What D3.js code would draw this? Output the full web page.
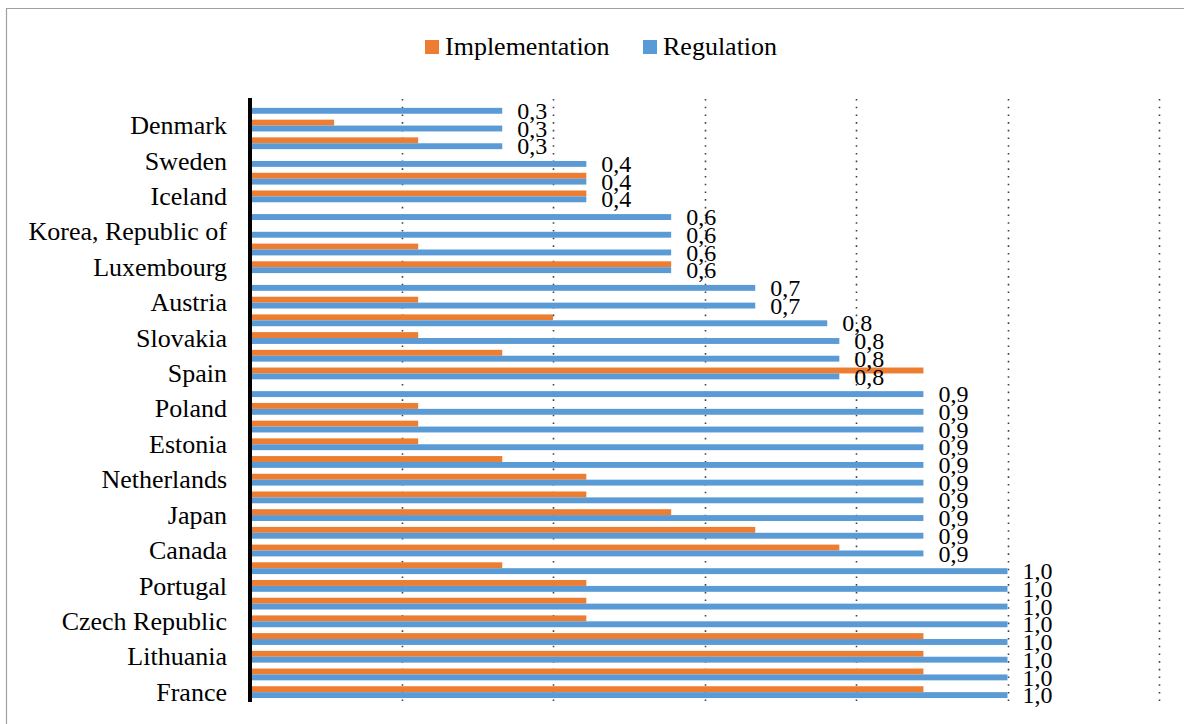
<!DOCTYPE html>
<html>
<head>
<meta charset="utf-8">
<script src="https://cdn.jsdelivr.net/npm/d3@7"></script>
<style>
  html, body { margin: 0; padding: 0; background: #fff; }
  svg { display: block; }
  text { font-family: "Liberation Serif", "Times New Roman", serif; fill: #000; }
</style>
</head>
<body>
<svg id="chart" width="1184" height="724"></svg>
<script>
// Country rows, top to bottom; only every second row carries a visible name
const categories = [
  "", "Denmark", "", "Sweden", "", "Iceland", "", "Korea, Republic of", "", "Luxembourg",
  "", "Austria", "", "Slovakia", "", "Spain", "", "Poland", "", "Estonia",
  "", "Netherlands", "", "Japan", "", "Canada", "", "Portugal", "", "Czech Republic",
  "", "Lithuania", "", "France"
];

// Implementation scores per row
const implementation = [
  0, 0.111, 0.222, 0, 0.444, 0.444, 0, 0, 0.222, 0.556,
  0, 0.222, 0.4, 0.222, 0.333, 0.889, 0, 0.222, 0.222, 0.222,
  0.333, 0.444, 0.444, 0.556, 0.667, 0.778, 0.333, 0.444, 0.444, 0.444,
  0.889, 0.889, 0.889, 0.889
];

// Regulation scores per row
const regulation = [
  0.333, 0.333, 0.333, 0.444, 0.444, 0.444, 0.556, 0.556, 0.556, 0.556,
  0.667, 0.667, 0.762, 0.778, 0.778, 0.778, 0.889, 0.889, 0.889, 0.889,
  0.889, 0.889, 0.889, 0.889, 0.889, 0.889, 1.0, 1.0, 1.0, 1.0,
  1.0, 1.0, 1.0, 1.0
];

const seriesNames = ["Implementation", "Regulation"];
const seriesColors = ["#ED7D31", "#5B9BD5"];
const gridTicks = [0.2, 0.4, 0.6, 0.8, 1.0, 1.2];

const svg = d3.select("#chart");

// Chart frame
svg.append("path")
  .attr("d", "M6.5,724 V8.5 H1184")
  .attr("fill", "none")
  .attr("stroke", "#a0a0a0")
  .attr("stroke-width", 1.2);

const plot = { left: 250, right: 1159, top: 99, bottom: 701 };

const x = d3.scaleLinear().domain([0, 1.2]).range([plot.left, plot.right]);
const y = d3.scaleBand().domain(d3.range(categories.length)).range([plot.top, plot.bottom]).padding(0);
const inner = d3.scaleBand().domain(seriesNames).range([0, y.bandwidth()]).paddingInner(0).paddingOuter(0.5);

// Dotted vertical gridlines
svg.append("g").selectAll("line")
  .data(gridTicks)
  .join("line")
  .attr("x1", d => Math.round(x(d)) + 0.5)
  .attr("x2", d => Math.round(x(d)) + 0.5)
  .attr("y1", plot.top)
  .attr("y2", plot.bottom)
  .attr("stroke", "#404040")
  .attr("stroke-width", 1.6)
  .attr("stroke-dasharray", "1.6,6.1");

// Bars
const rows = categories.map((c, i) => ({ i, values: [implementation[i], regulation[i]] }));
const rowG = svg.append("g").selectAll("g")
  .data(rows)
  .join("g")
  .attr("transform", d => `translate(0,${y(d.i)})`);

rowG.selectAll("rect")
  .data(d => d.values.map((v, k) => ({ v, k })))
  .join("rect")
  .attr("x", x(0))
  .attr("y", d => inner(seriesNames[d.k]))
  .attr("width", d => x(d.v) - x(0))
  .attr("height", inner.bandwidth())
  .attr("fill", d => seriesColors[d.k]);

// Value labels on the Regulation bars
const fmt = v => d3.format(".1f")(v).replace(".", ",");
svg.append("g").selectAll("text")
  .data(rows)
  .join("text")
  .attr("x", d => x(regulation[d.i]) + 15)
  .attr("y", d => y(d.i) + inner("Regulation") + inner.bandwidth() / 2)
  .attr("dy", "0.34em")
  .attr("font-size", 24)
  .text(d => fmt(regulation[d.i]));

// Category axis
const labelled = d3.range(categories.length).filter(i => categories[i] !== "");
const yAxis = d3.axisLeft(y)
  .tickValues(labelled)
  .tickFormat(i => categories[i])
  .tickSize(0)
  .tickPadding(23);
const axisG = svg.append("g").attr("transform", `translate(${plot.left},0)`).call(yAxis);
axisG.select(".domain").remove();
axisG.selectAll("text")
  .attr("font-size", 26)
  .attr("font-family", "Liberation Serif, Times New Roman, serif")
  .attr("fill", "#000")
  .attr("dy", "0.33em");

// Thick axis line
svg.append("line")
  .attr("x1", plot.left).attr("x2", plot.left)
  .attr("y1", plot.top - 1).attr("y2", plot.bottom + 1)
  .attr("stroke", "#000")
  .attr("stroke-width", 4);

// Legend
const legendItems = [
  { name: seriesNames[0], color: seriesColors[0], x: 425 },
  { name: seriesNames[1], color: seriesColors[1], x: 643 }
];
const lg = svg.append("g").selectAll("g")
  .data(legendItems)
  .join("g")
  .attr("transform", d => `translate(${d.x},0)`);
lg.append("rect")
  .attr("x", 0).attr("y", 40)
  .attr("width", 14).attr("height", 14)
  .attr("fill", d => d.color);
lg.append("text")
  .attr("x", 20).attr("y", 55)
  .attr("font-size", 26)
  .text(d => d.name);
</script>
</body>
</html>
